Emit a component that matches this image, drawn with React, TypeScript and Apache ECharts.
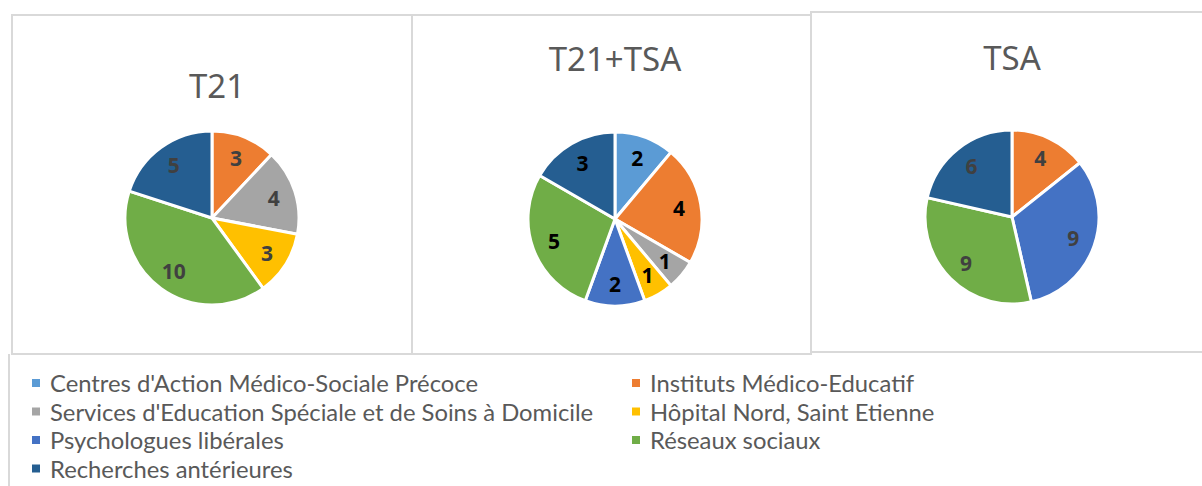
import React, { useEffect, useRef } from "react";
import * as echarts from "echarts";

const categories = [
  "Centres d'Action Médico-Sociale Précoce",
  "Instituts Médico-Educatif",
  "Services d'Education Spéciale et de Soins à Domicile",
  "Hôpital Nord, Saint Etienne",
  "Psychologues libérales",
  "Réseaux sociaux",
  "Recherches antérieures",
];
const colors = ["#5B9BD5", "#ED7D31", "#A5A5A5", "#FFC000", "#4472C4", "#70AD47", "#255E91"];
const t21Values = [0, 3, 4, 3, 0, 10, 5];
const t21TsaValues = [2, 4, 1, 1, 2, 5, 3];
const tsaValues = [0, 4, 0, 0, 9, 9, 6];
const titles = ["T21", "T21+TSA", "TSA"];

const pies = [
  { values: t21Values, center: [212, 218], title: [217, 85], labelColor: "#404040" },
  { values: t21TsaValues, center: [615, 219], title: [615, 58], labelColor: "#000000" },
  { values: tsaValues, center: [1012, 217], title: [1012, 57], labelColor: "#404040" },
];

// legend layout: two columns, row-major order
const legendRowCenters = [383, 411.5, 440, 468.5];
const legendColLefts = [30, 630];

export default function App() {
  const ref = useRef<HTMLDivElement>(null);
  useEffect(() => {
    if (!ref.current) return;
    const chart = echarts.init(ref.current, null, { renderer: "svg" });
    const R = 87;
    const visible = pies.map((p) => ({
      type: "pie",
      center: p.center,
      radius: [0, R],
      startAngle: 90,
      clockwise: true,
      silent: true,
      label: { show: false },
      labelLine: { show: false },
      itemStyle: { borderColor: "#ffffff", borderWidth: 3 },
      data: categories
        .map((c, i) => ({ name: c, value: p.values[i], itemStyle: { color: colors[i] } }))
        .filter((d) => d.value > 0),
    }));
    const labels = pies.map((p) => ({
      type: "pie",
      center: p.center,
      radius: [37, R],
      startAngle: 90,
      clockwise: true,
      silent: true,
      legendHoverLink: false,
      itemStyle: { color: "rgba(0,0,0,0)", borderWidth: 0 },
      emphasis: { disabled: true },
      labelLine: { show: false },
      label: {
        show: true,
        position: "inside",
        formatter: (d: any) => (d.value > 0 ? String(d.value) : ""),
        fontFamily: "Noto Sans",
        fontWeight: "bold",
        fontSize: 21,
        color: p.labelColor,
      },
      data: categories
        .map((c, i) => ({ name: c, value: p.values[i] }))
        .filter((d) => d.value > 0),
    }));
    const borderStyle = { fill: "none", stroke: "#D9D9D9", lineWidth: 2 };
    const legends = categories.map((c, i) => ({
      orient: "horizontal",
      left: legendColLefts[i % 2],
      top: legendRowCenters[Math.floor(i / 2)] - 12,
      padding: 0,
      icon: "rect",
      itemWidth: 10,
      itemHeight: 10,
      selectedMode: false,
      data: [c],
      textStyle: {
        fontFamily: "Lato",
        fontSize: 23.8,
        lineHeight: 24,
        color: "#595959",
        padding: [0, 0, 0, 4],
      },
    }));
    chart.setOption({
      animation: false,
      legend: legends,
      graphic: [
        { type: "rect", shape: { x: 12, y: 15, width: 400, height: 339 }, style: borderStyle, z: -1 },
        { type: "rect", shape: { x: 412, y: 15, width: 399, height: 339 }, style: borderStyle, z: -1 },
        { type: "rect", shape: { x: 811, y: 12, width: 400, height: 340 }, style: borderStyle, z: -1 },
        { type: "line", shape: { x1: 9, y1: 354, x2: 9, y2: 490 }, style: { stroke: "#D9D9D9", lineWidth: 2 }, z: -1 },
        ...pies.map((p, i) => ({
          type: "text",
          x: p.title[0],
          y: p.title[1],
          style: {
            text: titles[i],
            fill: "#595959",
            font: "33px 'Noto Sans'",
            textAlign: "center",
            textVerticalAlign: "middle",
          },
        })),
      ],
      series: [...visible, ...labels],
    });
    return () => chart.dispose();
  }, []);
  return (
    <div
      ref={ref}
      style={{ position: "fixed", left: 0, top: 0, width: 1202, height: 486, background: "#ffffff" }}
    />
  );
}
